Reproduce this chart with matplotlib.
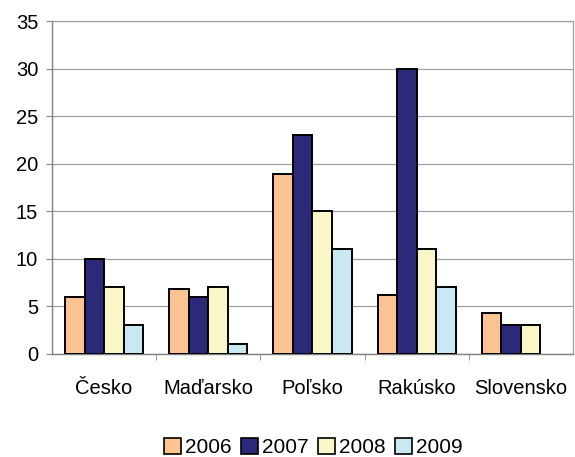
import matplotlib
matplotlib.use("Agg")
import matplotlib.pyplot as plt
import matplotlib.patches as mpatches
import numpy as np

# ── Data ───────────────────────────────────────────────
countries = ["Česko", "Maďarsko", "Poľsko", "Rakúsko", "Slovensko"]
years = ["2006", "2007", "2008", "2009"]
v2006 = [6.0, 6.8, 18.9, 6.2, 4.3]
v2007 = [10.0, 6.0, 23.0, 30.0, 3.1]
v2008 = [7.0, 7.0, 15.0, 11.0, 3.1]
v2009 = [3.1, 1.0, 11.0, 7.0, np.nan]   # no bar for Slovensko
series = [v2006, v2007, v2008, v2009]

colors = ["#FBC391", "#2C2A78", "#FAF6C8", "#C8E9F3"]

plt.rcParams.update({
    "font.family": "Liberation Sans",
    "font.size": 14,
})

fig = plt.figure(figsize=(5.75, 4.57), dpi=100)
ax = fig.add_axes([0.0904, 0.2254, 0.906, 0.7286])

x = np.arange(len(countries))
width = 0.1875
for i, (vals, col) in enumerate(zip(series, colors)):
    offs = (i - 1.5) * width
    ax.bar(x + offs, vals, width, color=col, edgecolor="black",
           linewidth=1.4, zorder=3)

ax.set_xlim(-0.5, len(countries) - 0.5)
ax.set_ylim(0, 35)
ax.set_yticks(np.arange(0, 36, 5))
ax.set_xticks(x)
ax.set_xticklabels(countries, fontsize=14.5)
ax.set_xticks(np.arange(0.5, len(countries) - 0.5, 1), minor=True)
ax.tick_params(axis="x", which="major", length=0, pad=18)
ax.tick_params(axis="x", which="minor", length=4, color="#888888")
ax.tick_params(axis="y", length=4, color="#888888", pad=6, labelsize=14.5)

ax.yaxis.grid(True, color="#a0a0a0", linewidth=0.9, zorder=0)
ax.set_axisbelow(True)
for side in ["left", "bottom"]:
    ax.spines[side].set_color("#808080")
    ax.spines[side].set_linewidth(1.0)
for side in ["top", "right"]:
    ax.spines[side].set_color("#a0a0a0")
    ax.spines[side].set_linewidth(0.9)

handles = [mpatches.Patch(facecolor=c, edgecolor="black", linewidth=1.2, label=y)
           for c, y in zip(colors, years)]
fig.legend(handles=handles, loc="center", bbox_to_anchor=(0.545, 0.02),
           ncol=4, frameon=False, handlelength=0.8, handleheight=0.8,
           handletextpad=0.2, columnspacing=0.45, fontsize=15)

fig.savefig("out.png", dpi=100, facecolor="white")
plt.close(fig)
